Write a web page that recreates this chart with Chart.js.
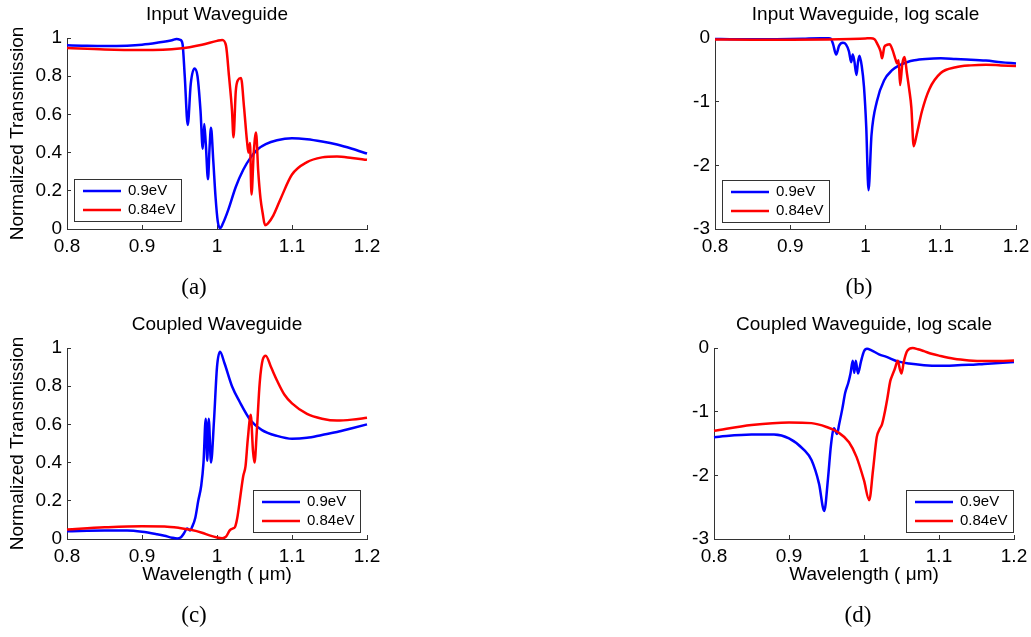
<!DOCTYPE html>
<html>
<head>
<meta charset="utf-8">
<script src="https://cdn.jsdelivr.net/npm/chart.js@4.4.1/dist/chart.umd.min.js"></script>
<style>
    body { margin: 0; background: #fff; }
    #page { position: relative; width: 1031px; height: 637px; overflow: hidden; }
    canvas { position: absolute; }
    .sub { position: absolute; font-family: "Liberation Serif", "Times New Roman", serif; font-size: 23px; color: #000; transform: translate(-50%, -50%); }
</style>
</head>
<body>
<div id="page">
    <canvas id="pa" width="515" height="300" style="left:0;top:0"></canvas>
    <canvas id="pb" width="516" height="300" style="left:515px;top:0"></canvas>
    <canvas id="pc" width="515" height="337" style="left:0;top:300px"></canvas>
    <canvas id="pd" width="516" height="337" style="left:515px;top:300px"></canvas>
    <div class="sub" style="left:194px;top:287px">(a)</div>
    <div class="sub" style="left:859px;top:287px">(b)</div>
    <div class="sub" style="left:194px;top:615px">(c)</div>
    <div class="sub" style="left:858px;top:615px">(d)</div>
</div>
<script>
// Series labels
const seriesLabels = ['0.9eV', '0.84eV'];

// Tick values
const waveTicks = [0.8, 0.9, 1.0, 1.1, 1.2];
const linTicks = [0, 0.2, 0.4, 0.6, 0.8, 1];
const logTicks = [-3, -2, -1, 0];

// Input waveguide, 0.9eV (wavelength in um, linear transmission, log10)
const inBlueLam = [0.80, 0.82, 0.85, 0.88, 0.90, 0.92, 0.94, 0.946, 0.951, 0.954, 0.957, 0.961, 0.965, 0.970, 0.974, 0.978, 0.981, 0.983, 0.985, 0.988,
    0.990, 0.992, 0.995, 0.998, 1.001, 1.004, 1.008, 1.015, 1.025, 1.035, 1.045, 1.055, 1.065, 1.08, 1.10, 1.12, 1.14, 1.16, 1.18, 1.20];
const inBlueLin = [0.962, 0.960, 0.958, 0.960, 0.965, 0.975, 0.988, 0.995, 0.99, 0.97, 0.80, 0.545, 0.76, 0.84, 0.80, 0.62, 0.42, 0.55, 0.45, 0.26,
    0.42, 0.53, 0.36, 0.17, 0.04, 0.004, 0.03, 0.10, 0.22, 0.31, 0.375, 0.42, 0.445, 0.465, 0.475, 0.47, 0.458, 0.442, 0.42, 0.395];
const inBlueLog = [-0.017, -0.018, -0.019, -0.018, -0.016, -0.011, -0.005, -0.002, -0.004, -0.013, -0.10, -0.26, -0.12, -0.076, -0.10, -0.21, -0.38, -0.26, -0.35, -0.58,
    -0.38, -0.28, -0.44, -0.77, -1.40, -2.39, -1.52, -1.00, -0.66, -0.51, -0.43, -0.38, -0.35, -0.33, -0.32, -0.33, -0.34, -0.355, -0.38, -0.40];

// Input waveguide, 0.84eV
const inRedLam = [0.80, 0.85, 0.90, 0.95, 0.98, 1.00, 1.007, 1.012, 1.016, 1.020, 1.022, 1.025, 1.028, 1.032, 1.036, 1.040, 1.042, 1.044, 1.046, 1.049,
    1.052, 1.055, 1.058, 1.061, 1.064, 1.068, 1.075, 1.085, 1.10, 1.12, 1.14, 1.16, 1.18, 1.20];
const inRedLin = [0.948, 0.94, 0.937, 0.945, 0.965, 0.985, 0.99, 0.96, 0.80, 0.62, 0.48, 0.72, 0.78, 0.79, 0.64, 0.46, 0.40, 0.45, 0.18, 0.40,
    0.505, 0.30, 0.16, 0.08, 0.02, 0.03, 0.07, 0.16, 0.285, 0.35, 0.375, 0.38, 0.372, 0.362];
const inRedLog = [-0.023, -0.027, -0.028, -0.024, -0.016, -0.007, -0.004, -0.018, -0.10, -0.21, -0.32, -0.14, -0.11, -0.10, -0.19, -0.34, -0.40, -0.35, -0.74, -0.40,
    -0.30, -0.55, -0.80, -1.10, -1.70, -1.52, -1.15, -0.80, -0.55, -0.46, -0.43, -0.42, -0.43, -0.44];

// Coupled waveguide, 0.9eV
const cpBlueLam = [0.80, 0.85, 0.88, 0.90, 0.92, 0.93, 0.94, 0.947, 0.952, 0.956, 0.960, 0.964, 0.967, 0.971, 0.975, 0.979, 0.982, 0.985, 0.987, 0.989,
    0.992, 0.996, 1.000, 1.004, 1.010, 1.020, 1.030, 1.045, 1.06, 1.08, 1.10, 1.12, 1.14, 1.16, 1.18, 1.20];
const cpBlueLin = [0.040, 0.044, 0.044, 0.038, 0.025, 0.017, 0.007, 0.003, 0.009, 0.03, 0.055, 0.045, 0.065, 0.11, 0.20, 0.28, 0.40, 0.63, 0.41, 0.63,
    0.40, 0.62, 0.90, 0.98, 0.92, 0.80, 0.72, 0.62, 0.57, 0.54, 0.525, 0.53, 0.545, 0.56, 0.58, 0.60];
const cpBlueLog = [-1.40, -1.36, -1.36, -1.42, -1.60, -1.76, -2.13, -2.56, -2.05, -1.52, -1.26, -1.35, -1.19, -0.96, -0.70, -0.55, -0.40, -0.20, -0.39, -0.20,
    -0.40, -0.21, -0.05, -0.01, -0.036, -0.10, -0.14, -0.21, -0.245, -0.27, -0.28, -0.275, -0.265, -0.25, -0.235, -0.22];

// Coupled waveguide, 0.84eV
const cpRedLam = [0.80, 0.85, 0.90, 0.93, 0.95, 0.965, 0.98, 0.99, 1.00, 1.007, 1.012, 1.017, 1.021, 1.024, 1.027, 1.031, 1.035, 1.038, 1.041, 1.045,
    1.048, 1.050, 1.053, 1.057, 1.061, 1.065, 1.072, 1.080, 1.090, 1.10, 1.12, 1.14, 1.16, 1.18, 1.20];
const cpRedLin = [0.050, 0.061, 0.067, 0.066, 0.058, 0.048, 0.033, 0.019, 0.008, 0.004, 0.012, 0.045, 0.055, 0.063, 0.11, 0.22, 0.33, 0.38, 0.52, 0.65,
    0.46, 0.40, 0.56, 0.82, 0.94, 0.96, 0.90, 0.83, 0.755, 0.71, 0.655, 0.63, 0.62, 0.625, 0.635];
const cpRedLog = [-1.30, -1.21, -1.17, -1.18, -1.24, -1.32, -1.48, -1.71, -2.08, -2.39, -1.92, -1.40, -1.27, -1.20, -1.05, -0.80, -0.52, -0.42, -0.33, -0.20,
    -0.34, -0.40, -0.22, -0.06, -0.01, 0.0, -0.02, -0.05, -0.09, -0.12, -0.17, -0.195, -0.205, -0.205, -0.197];

const FONT = '"Liberation Sans", Arial, sans-serif';
Chart.defaults.font.family = FONT;
Chart.defaults.font.size = 19;
Chart.defaults.color = '#000';

// Legend drawn inside the axes, MATLAB style
const boxLegend = {
    id: 'boxLegend',
    afterDatasetsDraw(chart, args, opts) {
        const { ctx, chartArea } = chart;
        const w = 107, h = 42;
        const x = opts.side === 'left' ? chartArea.left + opts.dx : chartArea.right - opts.dx - w;
        const y = chartArea.bottom - opts.dy - h;
        ctx.save();
        ctx.fillStyle = '#fff';
        ctx.fillRect(x, y, w, h);
        ctx.strokeStyle = '#333';
        ctx.lineWidth = 1;
        ctx.strokeRect(Math.round(x) + 0.5, Math.round(y) + 0.5, w, h);
        ctx.font = '15px ' + FONT;
        ctx.textBaseline = 'middle';
        chart.data.datasets.forEach((ds, i) => {
            const ly = y + 12 + i * 19;
            ctx.strokeStyle = ds.borderColor;
            ctx.lineWidth = 2.5;
            ctx.beginPath();
            ctx.moveTo(x + 9, ly);
            ctx.lineTo(x + 47, ly);
            ctx.stroke();
            ctx.fillStyle = '#000';
            ctx.fillText(ds.label, x + 54, ly);
        });
        ctx.restore();
    }
};

const fmt = v => String(parseFloat(Number(v).toFixed(3)));

function toPoints(lam, vals) {
    return lam.map((x, i) => ({ x: x, y: vals[i] }));
}

function makePanel(p) {
    const ctx = document.getElementById(p.id).getContext('2d');
    return new Chart(ctx, {
        type: 'line',
        data: {
            datasets: [{
                label: seriesLabels[0],
                data: toPoints(p.blue[0], p.blue[1]),
                borderColor: '#0000ff',
                order: 1
            }, {
                label: seriesLabels[1],
                data: toPoints(p.red[0], p.red[1]),
                borderColor: '#ff0000',
                order: 0
            }]
        },
        options: {
            responsive: false,
            animation: false,
            layout: { autoPadding: false, padding: p.pad },
            elements: {
                point: { radius: 0 },
                line: { borderWidth: 2.5, cubicInterpolationMode: 'monotone', fill: false }
            },
            datasets: { line: { clip: 4 } },
            plugins: {
                legend: { display: false },
                tooltip: { enabled: false },
                title: {
                    display: true,
                    text: p.title,
                    fullSize: false,
                    color: '#000',
                    font: { size: 19, weight: 'normal' },
                    padding: { top: 0, bottom: 11.6 }
                },
                boxLegend: p.legend
            },
            scales: {
                x: {
                    type: 'linear',
                    min: 0.8,
                    max: 1.2,
                    afterBuildTicks: s => { s.ticks = waveTicks.map(v => ({ value: v })); },
                    afterFit: s => { s.height = p.xh; s.paddingLeft = 0; s.paddingRight = 0; },
                    ticks: { padding: 10, maxRotation: 0, autoSkip: false, callback: fmt, color: '#000' },
                    grid: { drawOnChartArea: false, tickLength: -4, color: '#333' },
                    border: { color: '#333', width: 1 },
                    title: {
                        display: !!p.xTitle,
                        text: p.xTitle,
                        color: '#000',
                        padding: { top: 0, bottom: 12.6 }
                    }
                },
                y: {
                    type: 'linear',
                    min: p.yTicks[0],
                    max: p.yTicks[p.yTicks.length - 1],
                    afterBuildTicks: s => { s.ticks = p.yTicks.map(v => ({ value: v })); },
                    afterFit: s => { s.width = p.yw; s.paddingTop = 0; s.paddingBottom = 0; },
                    ticks: { padding: 9, autoSkip: false, callback: fmt, color: '#000' },
                    grid: { drawOnChartArea: false, tickLength: -4, color: '#333' },
                    border: { color: '#333', width: 1 },
                    title: {
                        display: !!p.yTitle,
                        text: p.yTitle,
                        color: '#000',
                        padding: { top: 6.6, bottom: 0 }
                    }
                }
            }
        },
        plugins: [boxLegend]
    });
}

const panels = [{
    id: 'pa', title: 'Input Waveguide', yTitle: 'Normalized Transmission', xTitle: '',
    blue: [inBlueLam, inBlueLin], red: [inRedLam, inRedLin], yTicks: linTicks,
    pad: { left: 0, top: 3.6, right: 148, bottom: 31 }, yw: 67, xh: 40,
    legend: { side: 'left', dx: 7, dy: 8 }
}, {
    id: 'pb', title: 'Input Waveguide, log scale', yTitle: '', xTitle: '',
    blue: [inBlueLam, inBlueLog], red: [inRedLam, inRedLog], yTicks: logTicks,
    pad: { left: 150, top: 3.6, right: 15, bottom: 31 }, yw: 50, xh: 40,
    legend: { side: 'left', dx: 7, dy: 7 }
}, {
    id: 'pc', title: 'Coupled Waveguide', yTitle: 'Normalized Transmission', xTitle: 'Wavelength ( \u03bcm)',
    blue: [cpBlueLam, cpBlueLin], red: [cpRedLam, cpRedLin], yTicks: linTicks,
    pad: { left: 0, top: 13.6, right: 148, bottom: 38 }, yw: 67, xh: 60,
    legend: { side: 'right', dx: 7, dy: 7 }
}, {
    id: 'pd', title: 'Coupled Waveguide, log scale', yTitle: '', xTitle: 'Wavelength ( \u03bcm)',
    blue: [cpBlueLam, cpBlueLog], red: [cpRedLam, cpRedLog], yTicks: logTicks,
    pad: { left: 149, top: 13.6, right: 17, bottom: 38 }, yw: 50, xh: 60,
    legend: { side: 'right', dx: 1, dy: 7 }
}];

panels.forEach(makePanel);
</script>
</body>
</html>
